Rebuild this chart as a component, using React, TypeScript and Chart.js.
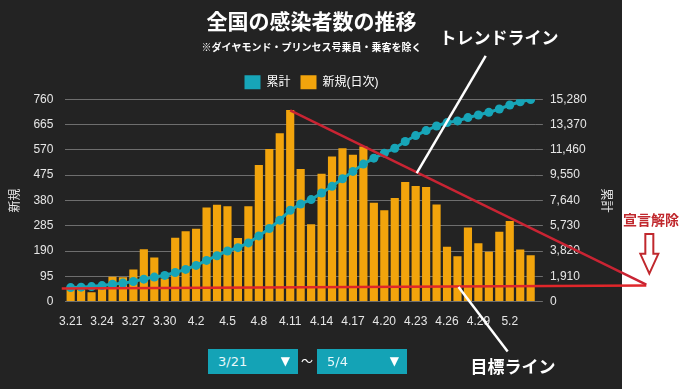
import { useEffect, useRef } from 'react';
import { Chart, registerables } from 'chart.js';

Chart.register(...registerables);

// ---- data ----
const categories = [
  '3.21', '3.22', '3.23', '3.24', '3.25', '3.26', '3.27', '3.28', '3.29', '3.30', '3.31',
  '4.1', '4.2', '4.3', '4.4', '4.5', '4.6', '4.7', '4.8', '4.9', '4.10',
  '4.11', '4.12', '4.13', '4.14', '4.15', '4.16', '4.17', '4.18', '4.19', '4.20',
  '4.21', '4.22', '4.23', '4.24', '4.25', '4.26', '4.27', '4.28', '4.29', '4.30',
  '5.1', '5.2', '5.3', '5.4',
];

const newCases = [
  47, 44, 35, 50, 93, 91, 121, 197, 166, 87, 240,
  264, 274, 353, 364, 358, 239, 358, 513, 573, 632,
  719, 498, 290, 480, 545, 576, 551, 582, 371, 343,
  389, 449, 434, 430, 365, 206, 170, 278, 219, 187,
  262, 303, 196, 174,
];

const cumulative = [
  1060, 1090, 1135, 1210, 1310, 1395, 1515, 1695, 1850, 1975, 2200,
  2430, 2730, 3110, 3465, 3820, 4070, 4430, 4960, 5515, 6150,
  6900, 7370, 7700, 8200, 8700, 9275, 9830, 10380, 10830, 11205,
  11580, 12085, 12535, 12910, 13260, 13515, 13640, 13890, 14090, 14290,
  14540, 14840, 15090, 15250,
];

const newAxisMax = 760;
const newAxisStep = 95;
const cumAxisMax = 15280;
const cumAxisStep = 1910;

const seriesLabels = ['累計', '新規(日次)'];
const titleText = '全国の感染者数の推移';
const subtitleText = '※ダイヤモンド・プリンセス号乗員・乗客を除く';

// annotations in [category index, 新規 value] coordinates
const trendLine: [number, number][] = [[21, 718], [55.06, 64]];
const targetLine: [number, number][] = [[-0.85, 49], [55.06, 60]];
const trendPointer: [number, number][] = [[39.7, 923], [33.1, 482]];
const targetPointer: [number, number][] = [[37.1, 55], [41.8, -187]];
const trendLabel = { text: 'トレンドライン', at: [40.96, 990] as [number, number] };
const targetLabel = { text: '目標ライン', at: [42.3, -243] as [number, number] };
const liftLabel = { text: '宣言解除', at: [55.5, 308] as [number, number] };
const liftArrow: [number, number][] = [[55.35, 254], [55.35, 105]];

const rangeFrom = '3/21';
const rangeTo = '5/4';

const TEAL = '#17a5b8';
const ORANGE = '#f2a40c';
const GRID = '#6e6e6e';
const TICK = '#e6e6e6';
const FONT = "'Liberation Sans', 'Noto Sans CJK JP', sans-serif";
const CJK = "'Noto Sans CJK JP', sans-serif";

const annotationPlugin = {
  id: 'annot',
  afterDraw(chart: any) {
    const { ctx, scales } = chart;
    const x = scales.x;
    const y = scales.yNew;
    const pt = (p: [number, number]) => [x.getPixelForValue(p[0]), y.getPixelForValue(p[1])];
    const line = (pts: [number, number][], color: string, w: number) => {
      ctx.save();
      ctx.strokeStyle = color;
      ctx.lineWidth = w;
      ctx.beginPath();
      const a = pt(pts[0]);
      const b = pt(pts[1]);
      ctx.moveTo(a[0], a[1]);
      ctx.lineTo(b[0], b[1]);
      ctx.stroke();
      ctx.restore();
    };
    line(targetLine, '#e0262a', 2.5);
    line(trendLine, '#c92433', 2.5);
    line(trendPointer, '#ffffff', 2.5);
    line(targetPointer, '#ffffff', 2.5);

    const label = (l: { text: string; at: [number, number] }, color: string, size: number) => {
      const p = pt(l.at);
      ctx.save();
      ctx.fillStyle = color;
      ctx.font = `bold ${size}px ${CJK}`;
      ctx.textAlign = 'center';
      ctx.textBaseline = 'middle';
      ctx.fillText(l.text, p[0], p[1]);
      ctx.restore();
    };
    label(trendLabel, '#ffffff', 17);
    label(targetLabel, '#ffffff', 17);
    label(liftLabel, '#c0282d', 14);

    // hollow down arrow
    const top = pt(liftArrow[0]);
    const bot = pt(liftArrow[1]);
    const cx = top[0];
    const h = bot[1] - top[1];
    const neck = top[1] + h * 0.5;
    ctx.save();
    ctx.strokeStyle = '#c0282d';
    ctx.lineWidth = 2;
    ctx.lineJoin = 'miter';
    ctx.beginPath();
    ctx.moveTo(cx - 4, top[1]);
    ctx.lineTo(cx + 4, top[1]);
    ctx.lineTo(cx + 4, neck);
    ctx.lineTo(cx + 9, neck);
    ctx.lineTo(cx, bot[1]);
    ctx.lineTo(cx - 9, neck);
    ctx.lineTo(cx - 4, neck);
    ctx.closePath();
    ctx.stroke();
    ctx.restore();
  },
};

function ChartView() {
  const ref = useRef<HTMLCanvasElement | null>(null);
  useEffect(() => {
    if (!ref.current) return;
    const colors = [TEAL, ORANGE];
    const chart = new Chart(ref.current, {
      type: 'bar',
      data: {
        labels: categories,
        datasets: [
          {
            type: 'line',
            label: seriesLabels[0],
            data: cumulative,
            yAxisID: 'yCum',
            borderColor: TEAL,
            backgroundColor: TEAL,
            borderWidth: 3,
            pointRadius: 4.5,
            pointBackgroundColor: TEAL,
            pointBorderWidth: 0,
            tension: 0,
            order: 0,
          } as any,
          {
            type: 'bar',
            label: seriesLabels[1],
            data: newCases,
            yAxisID: 'yNew',
            backgroundColor: ORANGE,
            borderWidth: 0,
            barPercentage: 0.78,
            categoryPercentage: 1,
            order: 1,
          } as any,
        ],
      },
      options: {
        animation: false,
        responsive: false,
        devicePixelRatio: 1,
        layout: { padding: { left: 3, right: 70, top: 0, bottom: 47 } },
        plugins: {
          title: {
            display: true,
            text: titleText,
            color: '#ffffff',
            font: { family: CJK, size: 21, weight: 'bold', lineHeight: 1.2 },
            padding: { top: 8, bottom: 4 },
          },
          subtitle: {
            display: true,
            text: subtitleText,
            color: '#ffffff',
            font: { family: CJK, size: 10, weight: 'bold', lineHeight: 1.2 },
            padding: { top: 4, bottom: 12 },
          },
          legend: {
            display: true,
            labels: {
              color: '#ffffff',
              boxWidth: 16,
              boxHeight: 14,
              padding: 10,
              font: { family: FONT, size: 12 },
              generateLabels: (c: any) =>
                c.data.datasets.map((ds: any, i: number) => ({
                  text: ds.label,
                  fillStyle: colors[i],
                  strokeStyle: colors[i],
                  lineWidth: 0,
                  hidden: false,
                  datasetIndex: i,
                  fontColor: '#ffffff',
                })),
            },
          },
          tooltip: { enabled: false },
        },
        scales: {
          x: {
            offset: true,
            grid: { display: false, drawTicks: false },
            border: { display: false },
            ticks: {
              color: TICK,
              autoSkip: false,
              maxRotation: 0,
              padding: 13,
              font: { family: FONT, size: 12 },
              callback: (_v: any, i: number) => (i % 3 === 0 ? categories[i] : ''),
            },
          },
          yNew: {
            type: 'linear',
            position: 'left',
            min: 0,
            max: newAxisMax,
            grid: { color: GRID, drawTicks: false, lineWidth: 1 },
            border: { display: false },
            ticks: {
              stepSize: newAxisStep,
              color: TICK,
              padding: 12,
              font: { family: FONT, size: 12 },
            },
            title: {
              display: true,
              text: '新規',
              color: TICK,
              font: { family: CJK, size: 12 },
              padding: { top: 4, bottom: 0 },
            },
          },
          yCum: {
            type: 'linear',
            position: 'right',
            min: 0,
            max: cumAxisMax,
            grid: { color: GRID, drawOnChartArea: false, drawTicks: true, tickLength: 7 },
            border: { display: false },
            ticks: {
              stepSize: cumAxisStep,
              color: TICK,
              padding: 7,
              font: { family: FONT, size: 12 },
            },
            title: {
              display: true,
              text: '累計',
              color: TICK,
              font: { family: CJK, size: 12 },
              padding: { top: 6, bottom: 6 },
            },
          },
        },
      } as any,
      plugins: [annotationPlugin],
    });
    return () => chart.destroy();
  }, []);
  return <canvas ref={ref} width={690} height={389} style={{ position: 'absolute', left: 0, top: 0 }} />;
}

const selectBox = (left: number, text: string) => (
  <div
    style={{
      position: 'absolute',
      left,
      top: 349,
      width: 90,
      height: 25,
      background: '#14a3b6',
      color: '#e8f8fb',
      fontFamily: "'DejaVu Sans', sans-serif",
      fontSize: 13,
      lineHeight: '25px',
      boxSizing: 'border-box',
      paddingLeft: 10,
    }}
  >
    {text}
    <span style={{ position: 'absolute', right: 8, top: 0, color: '#ffffff', fontSize: 12 }}>▼</span>
  </div>
);

export default function App() {
  return (
    <div
      style={{
        position: 'absolute',
        left: 0,
        top: 0,
        width: 690,
        height: 389,
        background: '#ffffff',
        overflow: 'hidden',
      }}
    >
      <div style={{ position: 'absolute', left: 0, top: 0, width: 622, height: 389, background: '#232323' }} />
      <ChartView />
      {selectBox(208, rangeFrom)}
      <div
        style={{
          position: 'absolute',
          left: 301,
          top: 352,
          color: '#ffffff',
          fontFamily: CJK,
          fontSize: 12,
        }}
      >
        ～
      </div>
      {selectBox(317, rangeTo)}
    </div>
  );
}
